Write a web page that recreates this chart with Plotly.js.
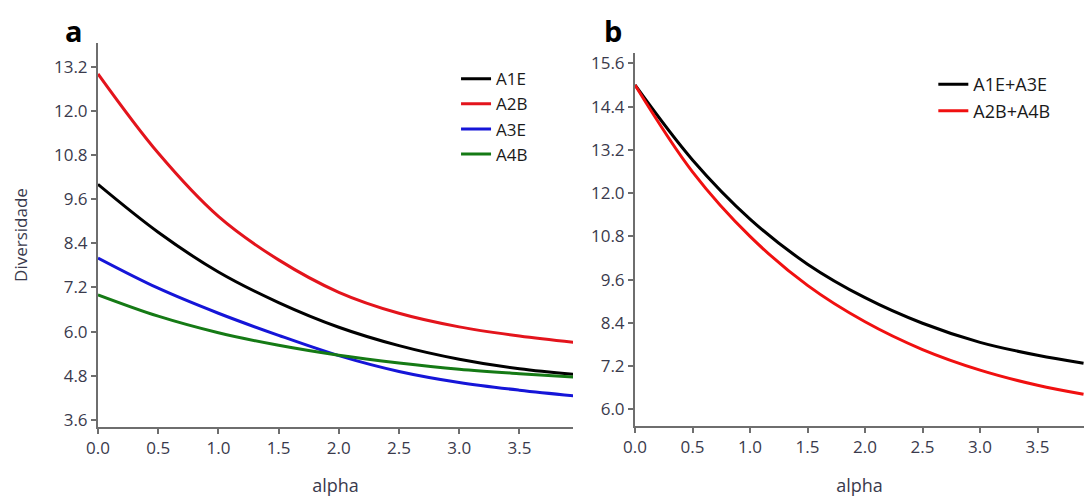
<!DOCTYPE html>
<html>
<head>
<meta charset="utf-8">
<script src="https://cdn.plot.ly/plotly-3.0.1.min.js"></script>
<style>html,body{margin:0;padding:0;background:#fff;}#chart{width:1084px;height:497px;}</style>
</head>
<body>
<div id="chart"></div>
<script>
// Panel a: diversity profiles of individual samples
const alphaA = [0, 0.5, 1.0, 1.5, 2.0, 2.5, 3.0, 3.5, 3.95];
const A1E = [10.0, 8.70, 7.62, 6.79, 6.12, 5.62, 5.25, 4.99, 4.84];
const A2B = [13.0, 10.85, 9.13, 7.95, 7.07, 6.50, 6.13, 5.88, 5.71];
const A3E = [8.0, 7.18, 6.50, 5.90, 5.35, 4.92, 4.62, 4.41, 4.26];
const A4B = [7.0, 6.42, 5.97, 5.63, 5.36, 5.15, 4.98, 4.86, 4.77];

// Panel b: pooled samples
const alphaB = [0, 0.5, 1.0, 1.5, 2.0, 2.5, 3.0, 3.5, 3.9];
const A1E_A3E = [15.0, 12.92, 11.28, 10.03, 9.10, 8.39, 7.86, 7.50, 7.28];
const A2B_A4B = [15.0, 12.59, 10.80, 9.44, 8.43, 7.66, 7.09, 6.67, 6.42];

const namesA = ['A1E', 'A2B', 'A3E', 'A4B'];
const seriesA = [A1E, A2B, A3E, A4B];
const coloursA = ['#000000', '#e3141c', '#1515d8', '#157a15'];
const namesB = ['A1E+A3E', 'A2B+A4B'];
const seriesB = [A1E_A3E, A2B_A4B];
const coloursB = ['#000000', '#f01010'];

const traces = [];
seriesA.forEach((s, i) => traces.push({
  x: alphaA, y: s, name: namesA[i], type: 'scatter', mode: 'lines',
  line: {color: coloursA[i], width: 3, shape: 'spline', smoothing: 1},
  xaxis: 'x', yaxis: 'y', legend: 'legend'
}));
seriesB.forEach((s, i) => traces.push({
  x: alphaB, y: s, name: namesB[i], type: 'scatter', mode: 'lines',
  line: {color: coloursB[i], width: 3, shape: 'spline', smoothing: 1},
  xaxis: 'x2', yaxis: 'y2', legend: 'legend2'
}));

const tickFont = {family: 'Open Sans, sans-serif', size: 17, color: '#3a3a4c'};
const axisCommon = {
  showline: true, linecolor: '#6e6e6e', linewidth: 2,
  ticks: 'outside', ticklen: 5, tickwidth: 2, tickcolor: '#6e6e6e',
  showgrid: false, zeroline: false, tickfont: tickFont, fixedrange: true
};
const titleFont = {family: 'Open Sans, sans-serif', size: 18, color: '#3a3a4c'};

const layout = {
  width: 1084, height: 497,
  margin: {l: 0, r: 0, t: 0, b: 0},
  paper_bgcolor: '#ffffff', plot_bgcolor: '#ffffff',
  showlegend: true,
  xaxis: Object.assign({}, axisCommon, {
    domain: [0.0904, 0.5286], range: [0, 3.945], tick0: 0, dtick: 0.5, tickformat: '.1f',
    anchor: 'y', title: {text: 'alpha', font: titleFont, standoff: 28}
  }),
  yaxis: Object.assign({}, axisCommon, {
    domain: [0.1408, 0.9135], range: [3.41, 13.84], tick0: 3.6, dtick: 1.2, tickformat: '.1f',
    anchor: 'x', title: {text: 'Diversidade', font: {family: 'Open Sans, sans-serif', size: 17, color: '#3a3a4c'}, standoff: 22}
  }),
  xaxis2: Object.assign({}, axisCommon, {
    domain: [0.5858, 1.0], range: [0, 3.904], tick0: 0, dtick: 0.5, tickformat: '.1f',
    anchor: 'y2', title: {text: 'alpha', font: titleFont, standoff: 28}
  }),
  yaxis2: Object.assign({}, axisCommon, {
    domain: [0.1429, 0.8928], range: [5.54, 15.88], tick0: 6.0, dtick: 1.2, tickformat: '.1f',
    anchor: 'x2'
  }),
  legend: {
    x: 0.4207, y: 0.877, xanchor: 'left', yanchor: 'top',
    bgcolor: 'rgba(0,0,0,0)', borderwidth: 0, tracegroupgap: 0,
    font: {family: 'Open Sans, sans-serif', size: 17, color: '#1a1a1a'}
  },
  legend2: {
    x: 0.861, y: 0.867, xanchor: 'left', yanchor: 'top',
    bgcolor: 'rgba(0,0,0,0)', borderwidth: 0, tracegroupgap: 0,
    font: {family: 'Open Sans, sans-serif', size: 18, color: '#1a1a1a'}
  },
  annotations: [
    {text: '<b>a</b>', xref: 'paper', yref: 'paper', x: 0.0683, y: 0.9396,
     xanchor: 'center', yanchor: 'middle', showarrow: false,
     font: {family: 'Open Sans, sans-serif', size: 29, color: '#000'}},
    {text: '<b>b</b>', xref: 'paper', yref: 'paper', x: 0.5655, y: 0.9396,
     xanchor: 'center', yanchor: 'middle', showarrow: false,
     font: {family: 'Open Sans, sans-serif', size: 29, color: '#000'}}
  ]
};

Plotly.newPlot('chart', traces, layout, {displayModeBar: false, staticPlot: true});
</script>
</body>
</html>
